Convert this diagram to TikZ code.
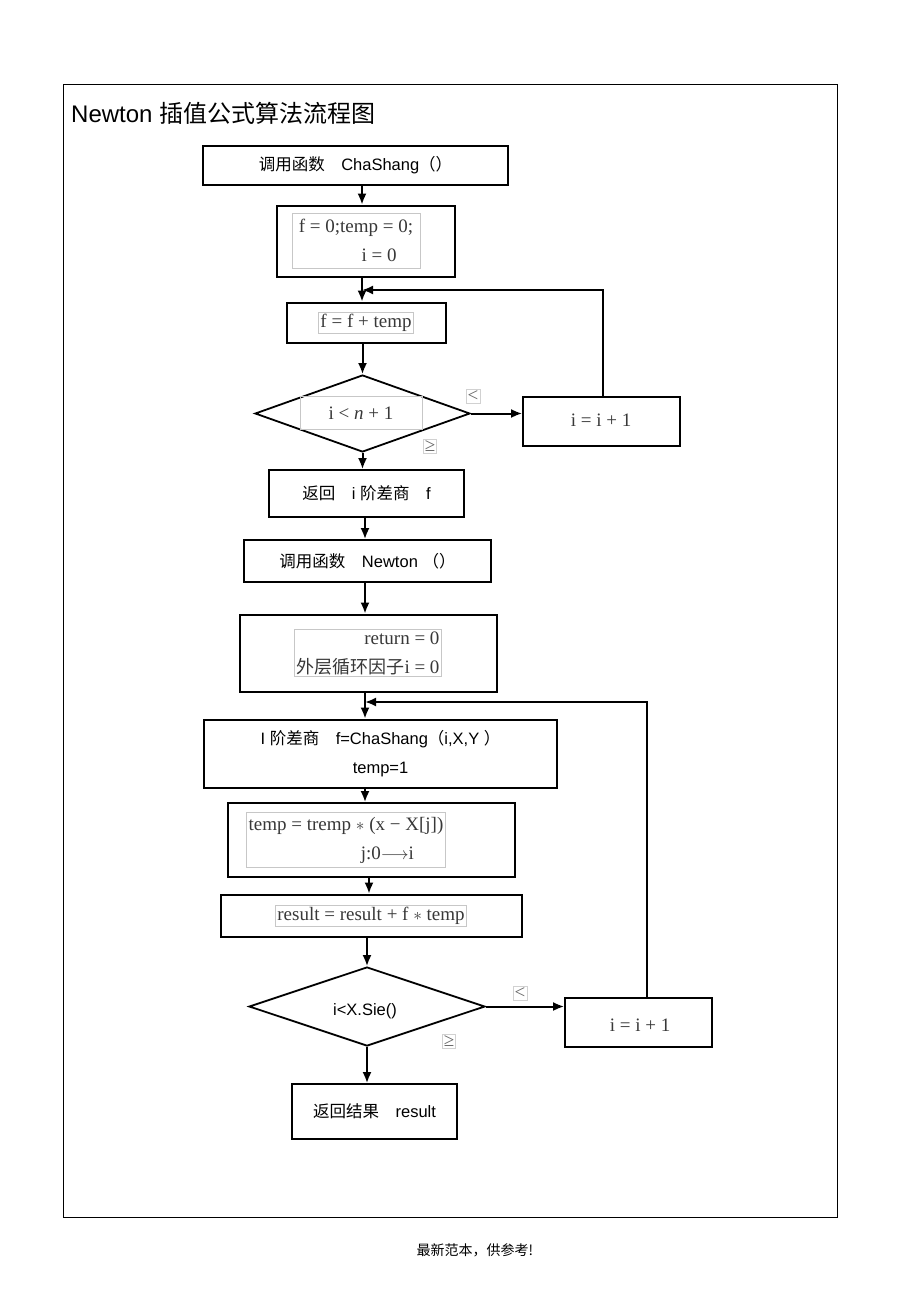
\documentclass[tikz,border=0pt]{standalone}
\usepackage{fontspec}
\setmainfont{Liberation Sans}
\newfontfamily\cjk{Noto Sans CJK SC}
\newfontfamily\eqf{Liberation Serif}
\usetikzlibrary{shapes.geometric,arrows.meta}
\begin{document}
\begin{tikzpicture}[x=1pt,y=-1pt,
  box/.style={draw, line width=1.8pt, inner sep=0pt, align=center, font=\fontsize{16.5}{29}\selectfont},
  thickb/.style={line width=2.8pt},
  dia/.style={draw, diamond, line width=1.8pt, inner sep=0pt, font=\fontsize{16}{19}\selectfont},
  eq/.style={draw=black!22, line width=0.5pt, text=black!78, inner sep=2pt, font=\eqf\fontsize{19}{29}\selectfont},
  eqp/.style={text=black!78, inner sep=2pt, font=\eqf\fontsize{19}{29}\selectfont},
  lbl/.style={draw=black!18, line width=0.5pt, text=black!60, inner sep=1.5pt, font=\eqf\fontsize{19}{21}\selectfont},
  arr/.style={line width=2pt, -{Latex[length=11pt,width=9pt]}}]
\useasboundingbox (0,0) rectangle (920,1308);
\fill[white] (0,0) rectangle (920,1308);
\draw[line width=1pt] (63,85) rectangle (837,1217);
\node[anchor=west, inner sep=0pt, font=\fontsize{24}{27}\selectfont] (title) at (71,113) {Newton {\cjk 插值公式算法流程图}};

\coordinate (c1) at (362,0);
\coordinate (c2) at (365,0);
\coordinate (c3) at (369,0);

% boxes
\node[box, minimum width=305, minimum height=39] (b1) at (355.5,165.5) {{\cjk 调用函数}\quad ChaShang{\cjk （）}};
\node[box, thickb, minimum width=178, minimum height=71] (b2) at (366,241.5) {};
\node[eq, align=left, minimum width=128, minimum height=55] (b2t) at (356,240.5) {f = 0;temp = 0;\\\hspace*{3.3em}i = 0};
\node[box, thickb, minimum width=159, minimum height=40] (b3) at (366.5,323) {};
\node[eq] (b3t) at (366,323) {f = f + temp};
\node[dia, minimum width=215, minimum height=77] (d1) at (362.5,413.5) {};
\node[eq, minimum width=122, minimum height=33] (d1t) at (361,413) {i < {\itshape n} + 1};
\node[lbl] (l1) at (473,396) {<};
\node[lbl] (g1) at (430,446) {≥};
\node[box, minimum width=157, minimum height=49] (b4) at (601.5,421.5) {};
\node[eqp] (b4t) at (601,420) {i = i + 1};
\node[box, minimum width=195, minimum height=47] (b5) at (366.5,493.5) {{\cjk 返回}\quad i {\cjk 阶差商}\quad f};
\node[box, minimum width=247, minimum height=42] (b6) at (367.5,561) {{\cjk 调用函数}\quad Newton {\cjk （）}};
\node[box, thickb, minimum width=257, minimum height=77] (b7) at (368.5,653.5) {};
\node[eq, align=right] (b7t) at (368,653) {return = 0\\{\cjk\fontsize{18}{29}\selectfont 外层循环因子}i = 0};
\node[box, thickb, minimum width=353, minimum height=68] (b8) at (380.5,754) {I {\cjk 阶差商}\quad f=ChaShang{\cjk （}i,X,Y {\cjk ）}\\temp=1};
\node[box, minimum width=287, minimum height=74] (b9) at (371.5,840) {};
\node[eq, align=left, minimum height=55] (b9t) at (346,840) {temp = tremp $\ast$ (x − X[j])\\\hspace*{5.9em}j:0$\longrightarrow$i};
\node[box, thickb, minimum width=301, minimum height=42] (b10) at (371.5,916) {};
\node[eq] (b10t) at (371,916) {result = result + f $\ast$ temp};
\node[dia, minimum width=236, minimum height=79] (d2) at (367,1006.5) {};
\node[font=\fontsize{16.5}{19}\selectfont, inner sep=0pt] (d2t) at (365,1011) {i<X.Sie()};
\node[lbl] (l2) at (520,993) {<};
\node[lbl] (g2) at (449,1041) {≥};
\node[box, minimum width=147, minimum height=49] (b11) at (638.5,1022.5) {};
\node[eqp] (b11t) at (640,1025) {i = i + 1};
\node[box, minimum width=165, minimum height=55] (b12) at (374.5,1111.5) {{\cjk 返回结果}\quad result};

% connectors
\draw[arr] (b1.south -| c1) -- (b2.north -| c1);
\draw[arr] (b2.south -| c1) -- (b3.north -| c1);
\draw[arr] (b3.south -| d1.north) -- (d1.north);
\draw[arr] (d1.east) -- (d1.east -| b4.west);
\draw[arr] (d1.south) -- (b5.north -| d1.south);
\draw[arr] (b5.south -| c2) -- (b6.north -| c2);
\draw[arr] (b6.south -| c2) -- (b7.north -| c2);
\draw[arr] (b7.south -| c2) -- (b8.north -| c2);
\draw[arr] (b8.south -| c2) -- (b9.north -| c2);
\draw[arr] (b9.south -| c3) -- (b10.north -| c3);
\draw[arr] (b10.south -| d2.north) -- (d2.north);
\draw[arr] (d2.east) -- (d2.east -| b11.west);
\draw[arr] (d2.south) -- (b12.north -| d2.south);
\coordinate (fb1) at (603,290);
\draw[arr] (b4.north -| fb1) -- (fb1) -- (fb1 -| c1);
\coordinate (fb2) at (647,702);
\draw[arr] (b11.north -| fb2) -- (fb2) -- (fb2 -| c2);

\node[font=\cjk\fontsize{14}{16}\selectfont] (foot) at (475,1250) {最新范本，供参考!};
\end{tikzpicture}
\end{document}
